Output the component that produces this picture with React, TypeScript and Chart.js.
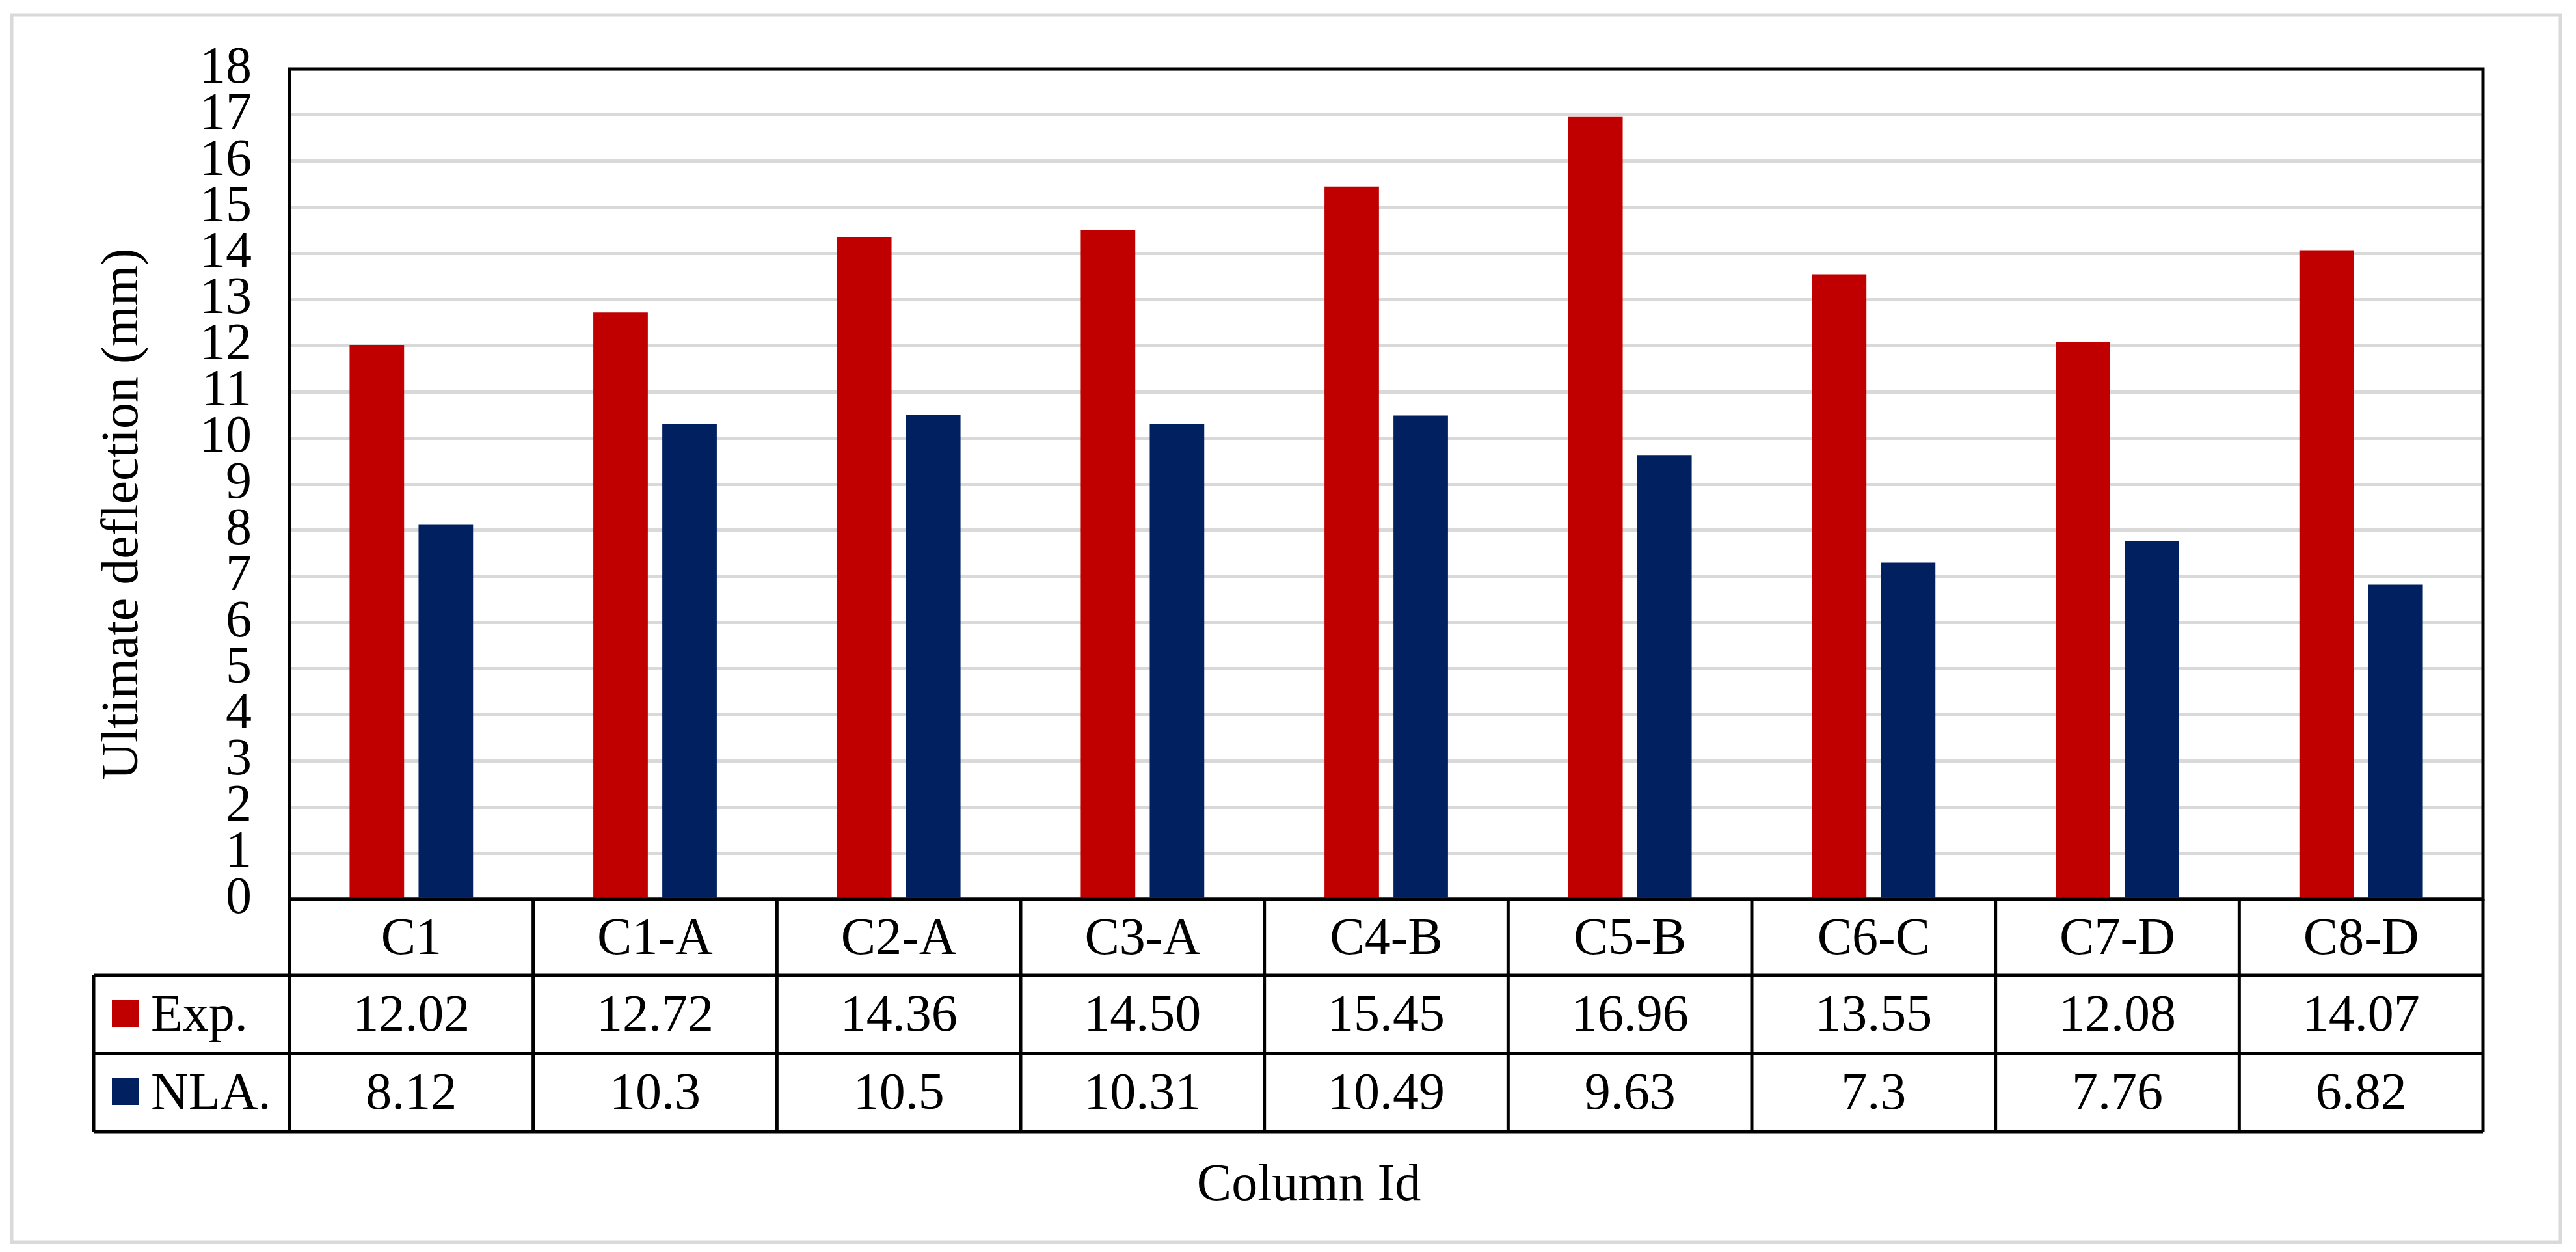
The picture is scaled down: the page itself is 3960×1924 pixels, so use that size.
import React, { useEffect, useRef } from "react";
import { Chart, registerables } from "chart.js";

Chart.register(...registerables);

const categories = ["C1", "C1-A", "C2-A", "C3-A", "C4-B", "C5-B", "C6-C", "C7-D", "C8-D"];
const expValues = [12.02, 12.72, 14.36, 14.5, 15.45, 16.96, 13.55, 12.08, 14.07];
const nlaValues = [8.12, 10.3, 10.5, 10.31, 10.49, 9.63, 7.3, 7.76, 6.82];
const seriesNames = ["Exp.", "NLA."];
const seriesColors = ["#C00000", "#002060"];
const yTicks = { min: 0, max: 18, step: 1 };
const yTitle = "Ultimate deflection (mm)";
const xTitle = "Column Id";

const FONT = "'Liberation Serif', 'Times New Roman', serif";
const FS = 80;

const tablePlugin = {
  id: "tablePlugin",
  afterDraw(chart: any) {
    const ctx = chart.ctx as CanvasRenderingContext2D;
    const ca = chart.chartArea;
    const xs = chart.scales.x;
    const n = categories.length;
    const r0 = ca.bottom;
    const r1 = 1499;
    const r2 = 1619;
    const r3 = 1739;
    const legendLeft = 144;
    const bounds: number[] = [];
    for (let i = 0; i <= n; i++) bounds.push(xs.getPixelForValue(i - 0.5));

    ctx.save();
    // outer border
    ctx.strokeStyle = "#D9D9D9";
    ctx.lineWidth = 5;
    ctx.strokeRect(18, 23, 3918, 1886);

    // plot frame
    ctx.strokeStyle = "#000";
    ctx.lineWidth = 5;
    ctx.strokeRect(ca.left, ca.top, ca.right - ca.left, ca.bottom - ca.top);

    // table lines
    ctx.lineWidth = 5;
    ctx.beginPath();
    ctx.moveTo(ca.left, r0);
    ctx.lineTo(ca.right, r0);
    for (const y of [r1, r2, r3]) {
      ctx.moveTo(legendLeft, y);
      ctx.lineTo(ca.right, y);
    }
    for (const x of bounds) {
      ctx.moveTo(x, r0);
      ctx.lineTo(x, r3);
    }
    ctx.moveTo(legendLeft, r1);
    ctx.lineTo(legendLeft, r3);
    ctx.stroke();

    // texts
    ctx.fillStyle = "#000";
    ctx.font = `${FS}px ${FONT}`;
    ctx.textAlign = "center";
    ctx.textBaseline = "middle";
    const rowsText = [
      categories,
      expValues.map((v) => v.toFixed(2)),
      nlaValues.map((v) => String(v)),
    ];
    const rowMid = [(r0 + r1) / 2, (r1 + r2) / 2, (r2 + r3) / 2];
    rowsText.forEach((row, ri) => {
      row.forEach((t, i) => {
        ctx.fillText(t, (bounds[i] + bounds[i + 1]) / 2, rowMid[ri] + 4);
      });
    });

    // legend cells
    const sw = 42;
    seriesNames.forEach((name, si) => {
      const ym = rowMid[si + 1];
      ctx.fillStyle = seriesColors[si];
      ctx.fillRect(172, ym - sw / 2 - 2, sw, sw);
      ctx.fillStyle = "#000";
      ctx.textAlign = "left";
      ctx.fillText(name, 232, ym + 4);
    });

    // axis titles
    ctx.textAlign = "center";
    ctx.fillText(xTitle, 2012, 1823);
    ctx.save();
    ctx.translate(190, 790);
    ctx.rotate(-Math.PI / 2);
    ctx.fillText(yTitle, 0, 0);
    ctx.restore();

    ctx.restore();
  },
};

export default function App() {
  const ref = useRef<HTMLCanvasElement>(null);
  useEffect(() => {
    document.body.style.margin = "0";
    const chart = new Chart(ref.current!, {
      type: "bar",
      data: {
        labels: categories,
        datasets: [
          {
            label: seriesNames[0],
            data: expValues,
            backgroundColor: seriesColors[0],
            categoryPercentage: 0.566,
            barPercentage: 0.79,
          },
          {
            label: seriesNames[1],
            data: nlaValues,
            backgroundColor: seriesColors[1],
            categoryPercentage: 0.566,
            barPercentage: 0.79,
          },
        ],
      },
      options: {
        animation: false,
        responsive: true,
        maintainAspectRatio: false,
        devicePixelRatio: 1,
        layout: { padding: { left: 0, top: 103, right: 143, bottom: 542 } },
        plugins: { legend: { display: false }, tooltip: { enabled: false }, title: { display: false } },
        scales: {
          x: { display: false, offset: true },
          y: {
            min: yTicks.min,
            max: yTicks.max,
            border: { display: false },
            grid: { color: "#D9D9D9", lineWidth: 5, drawTicks: false },
            ticks: {
              stepSize: yTicks.step,
              autoSkip: false,
              padding: 58,
              color: "#000",
              font: { family: FONT, size: FS },
            },
            afterFit: (scale: any) => {
              scale.width = 445;
            },
          },
        },
      },
      plugins: [tablePlugin],
    });
    return () => chart.destroy();
  }, []);
  return (
    <div style={{ position: "fixed", left: 0, top: 0, width: "3960px", height: "1924px", background: "#fff" }}>
      <canvas ref={ref} />
    </div>
  );
}
